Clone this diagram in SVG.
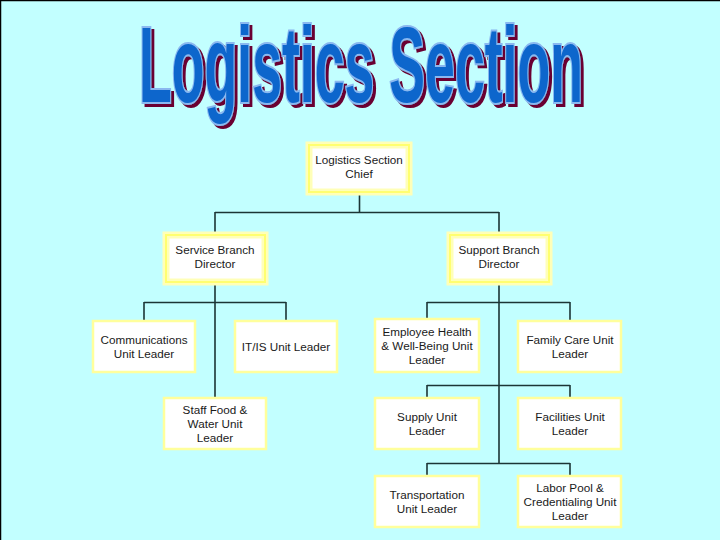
<svg xmlns="http://www.w3.org/2000/svg" width="720" height="540" viewBox="0 0 720 540">
<defs>
<filter id="shadow" filterUnits="userSpaceOnUse" x="0" y="0" width="720" height="160">
<feDropShadow dx="3" dy="3" stdDeviation="0" flood-color="#6a0030" flood-opacity="1"/>
</filter>
</defs>
<style>
.glow{fill:#ffffff;stroke:#ffffb8;stroke-width:7}
.edge{fill:none;stroke:#ffff70;stroke-width:2}
.box{fill:#ffffff;stroke:#ffff9c;stroke-width:2.5}
.t{font-family:"Liberation Sans",Arial,sans-serif;font-size:11.7px;fill:#1a1a1a;text-anchor:middle}
.c{fill:none;stroke:#1c3535;stroke-width:1.6}
.title{font-family:"Liberation Sans",Arial,sans-serif;font-weight:bold;font-size:108px}
</style>
<rect x="0" y="0" width="720" height="540" fill="#c2ffff"/>
<path d="M0.5 540V0.5H720" fill="none" stroke="#000" stroke-width="1.5"/>
<g id="title" filter="url(#shadow)">
<text class="title" x="139" y="102" textLength="444" lengthAdjust="spacingAndGlyphs" fill="#0a66cc" stroke="#8ab8f0" stroke-width="4" paint-order="stroke">Logistics Section</text>
</g>
<g id="connectors">
<path class="c" d="M359.5 192V212.5M215 212.5H499M215 212V232M499 212V232"/>
<path class="c" d="M215 284V397M144 302.5H286M144 302V321M286 302V321"/>
<path class="c" d="M499 284V463M427 302.5H570M427 302V319M570 302V321"/>
<path class="c" d="M427 385.5H570M427 385V398M570 385V398"/>
<path class="c" d="M427 463.5H570M427 463V476M570 463V476"/>
</g>
<g id="chief">
<rect class="glow" x="309" y="145" width="100" height="47"/><rect class="edge" x="309" y="145" width="100" height="47"/>
<text class="t" x="359" y="164">Logistics Section</text><text class="t" x="359" y="178">Chief</text>
</g>
<g id="service">
<rect class="glow" x="166" y="235" width="99" height="47"/><rect class="edge" x="166" y="235" width="99" height="47"/>
<text class="t" x="215" y="254">Service Branch</text><text class="t" x="215" y="268">Director</text>
</g>
<g id="support">
<rect class="glow" x="450" y="235" width="99" height="47"/><rect class="edge" x="450" y="235" width="99" height="47"/>
<text class="t" x="499" y="254">Support Branch</text><text class="t" x="499" y="268">Director</text>
</g>
<g id="communications">
<rect class="box" x="93" y="321" width="102" height="51"/>
<text class="t" x="144" y="344">Communications</text><text class="t" x="144" y="358">Unit Leader</text>
</g>
<g id="itis">
<rect class="box" x="235" y="321" width="102" height="51"/>
<text class="t" x="286" y="351">IT/IS Unit Leader</text>
</g>
<g id="stafffood">
<rect class="box" x="164" y="398" width="102" height="51"/>
<text class="t" x="215" y="414">Staff Food &amp;</text><text class="t" x="215" y="428">Water Unit</text><text class="t" x="215" y="442">Leader</text>
</g>
<g id="employeehealth">
<rect class="box" x="375" y="319" width="104" height="53"/>
<text class="t" x="427" y="336">Employee Health</text><text class="t" x="427" y="350">&amp; Well-Being Unit</text><text class="t" x="427" y="364">Leader</text>
</g>
<g id="familycare">
<rect class="box" x="518" y="321" width="103" height="51"/>
<text class="t" x="570" y="344">Family Care Unit</text><text class="t" x="570" y="358">Leader</text>
</g>
<g id="supply">
<rect class="box" x="375" y="398" width="104" height="51"/>
<text class="t" x="427" y="421">Supply Unit</text><text class="t" x="427" y="435">Leader</text>
</g>
<g id="facilities">
<rect class="box" x="518" y="398" width="103" height="51"/>
<text class="t" x="570" y="421">Facilities Unit</text><text class="t" x="570" y="435">Leader</text>
</g>
<g id="transportation">
<rect class="box" x="375" y="476" width="104" height="51"/>
<text class="t" x="427" y="499">Transportation</text><text class="t" x="427" y="513">Unit Leader</text>
</g>
<g id="laborpool">
<rect class="box" x="518" y="476" width="103" height="51"/>
<text class="t" x="570" y="492">Labor Pool &amp;</text><text class="t" x="570" y="506">Credentialing Unit</text><text class="t" x="570" y="520">Leader</text>
</g>
</svg>
